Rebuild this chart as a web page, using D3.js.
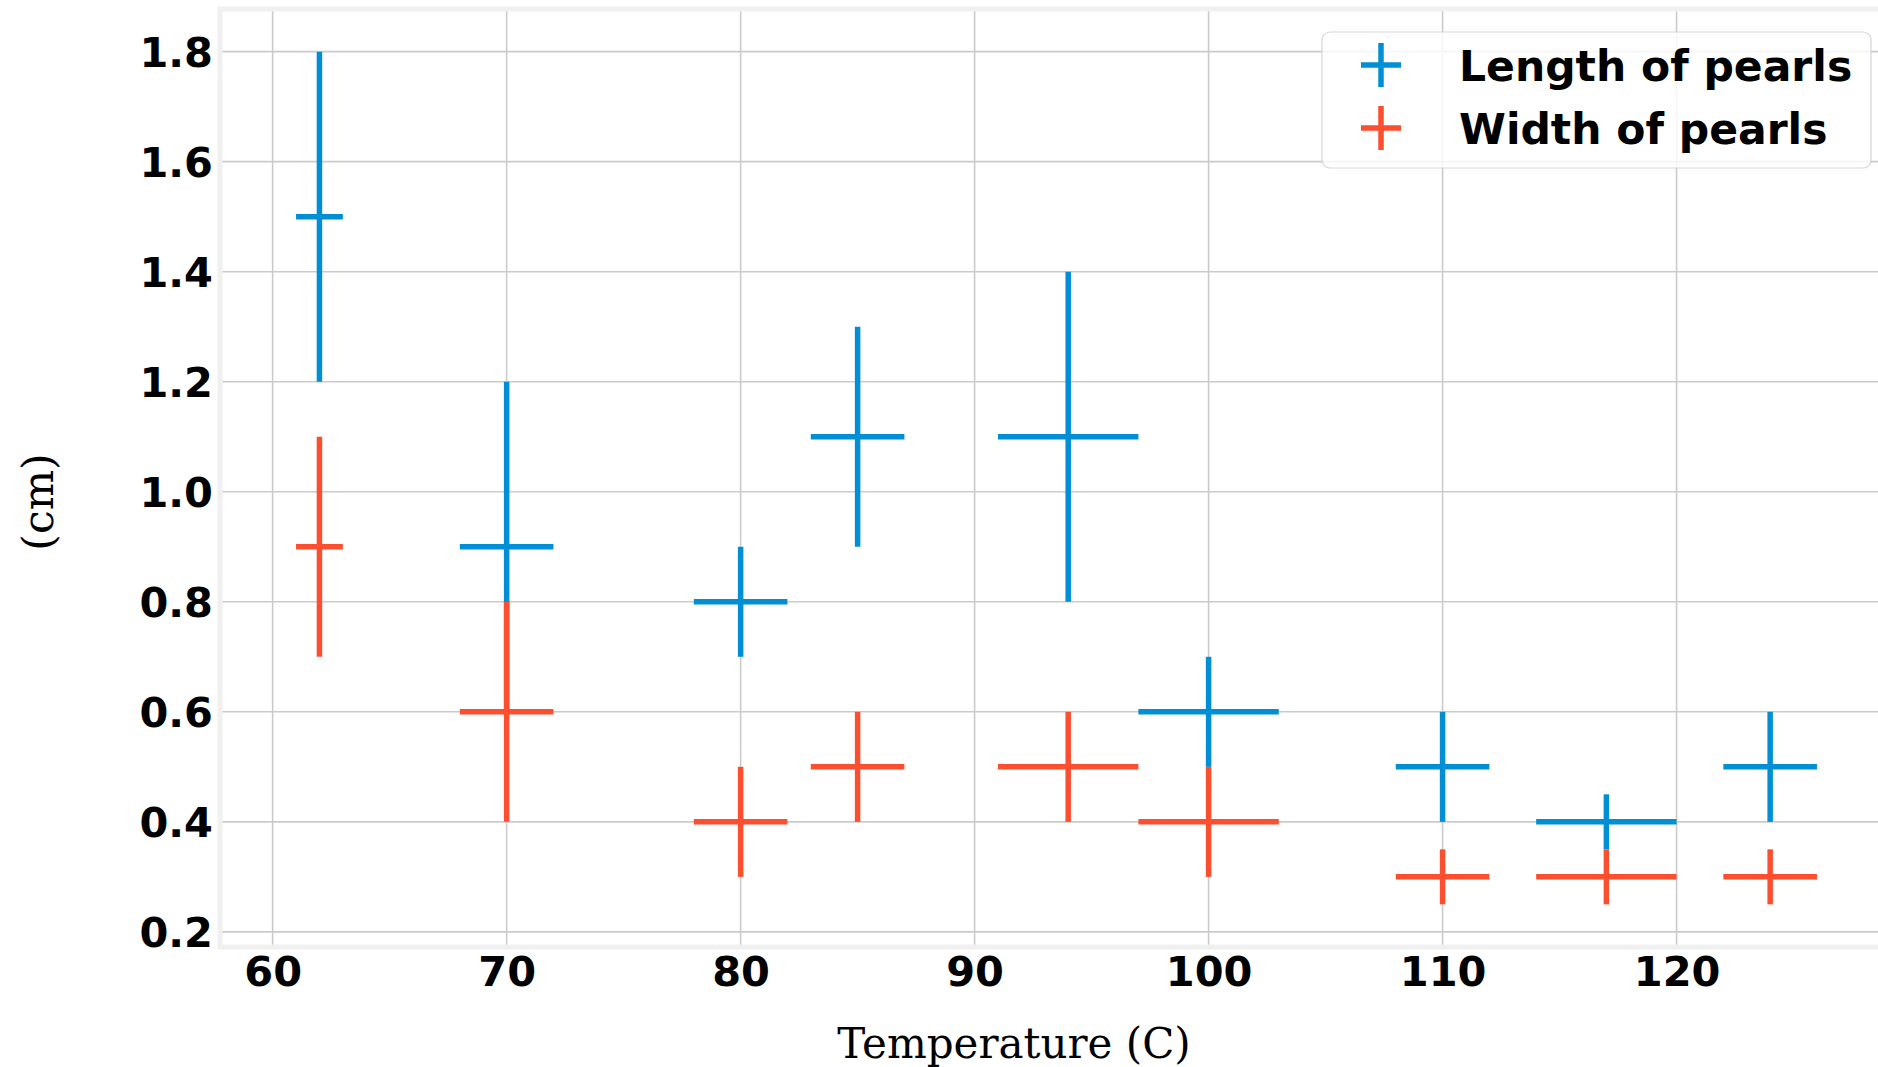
<!DOCTYPE html>
<html>
<head>
<meta charset="utf-8">
<script src="https://cdn.jsdelivr.net/npm/d3@7"></script>
<style>
  html, body { margin: 0; padding: 0; background: #ffffff; }
  svg { display: block; }
</style>
</head>
<body>
<svg id="chart" width="1878" height="1067"></svg>
<script>
// ---- data ----
const temperatures = [62, 70, 80, 85, 94, 100, 110, 117, 124];
const temperatureErr = [1, 2, 2, 2, 3, 3, 2, 3, 2];
const lengthValues = [1.5, 0.9, 0.8, 1.1, 1.1, 0.6, 0.5, 0.4, 0.5];
const lengthErr = [0.3, 0.3, 0.1, 0.2, 0.3, 0.1, 0.1, 0.05, 0.1];
const widthValues = [0.9, 0.6, 0.4, 0.5, 0.5, 0.4, 0.3, 0.3, 0.3];
const widthErr = [0.2, 0.2, 0.1, 0.1, 0.1, 0.1, 0.05, 0.05, 0.05];
const xTicks = [60, 70, 80, 90, 100, 110, 120];
const yTicks = [0.2, 0.4, 0.6, 0.8, 1.0, 1.2, 1.4, 1.6, 1.8];
const seriesNames = ["Length of pearls", "Width of pearls"];
const seriesColors = ["#008fd5", "#fc4f30"];
const xLabel = "Temperature (C)";
const yLabel = "(cm)";

(function () {
const svg = d3.select("#chart");
const pLeft = 220, pRight = 1893, pTop = 9, pBottom = 947;

const x = d3.scaleLinear().domain([57.75, 129.25]).range([pLeft, pRight]);
const y = d3.scaleLinear().domain([0.1725, 1.8775]).range([pBottom, pTop]);

// grid
const grid = svg.append("g");
grid.selectAll("line.gx").data(xTicks).join("line").attr("class", "gx")
  .attr("x1", d => x(d)).attr("x2", d => x(d))
  .attr("y1", pTop).attr("y2", pBottom)
  .attr("stroke", "#cbcbcb").attr("stroke-width", 1.6);
grid.selectAll("line.gy").data(yTicks).join("line").attr("class", "gy")
  .attr("x1", pLeft).attr("x2", pRight)
  .attr("y1", d => y(d)).attr("y2", d => y(d))
  .attr("stroke", "#cbcbcb").attr("stroke-width", 1.6);

// frame
svg.append("rect")
  .attr("x", pLeft).attr("y", pTop)
  .attr("width", pRight - pLeft).attr("height", pBottom - pTop)
  .attr("fill", "none").attr("stroke", "#f0f0f0").attr("stroke-width", 5);

// axes (tick labels via d3 axes)
const xAxis = d3.axisBottom(x).tickValues(xTicks).tickSize(0).tickPadding(0).tickFormat(d3.format("d"));
const yAxis = d3.axisLeft(y).tickValues(yTicks).tickSize(0).tickPadding(0).tickFormat(d3.format(".1f"));

const gx = svg.append("g").attr("transform", `translate(0,${pBottom})`).call(xAxis);
gx.select(".domain").remove();
gx.selectAll("text")
  .attr("dy", null).attr("y", 38.5)
  .style("font-family", "'DejaVu Sans'").style("font-weight", "bold")
  .style("font-size", "41.5px").attr("fill", "#000");

const gy = svg.append("g").attr("transform", `translate(${pLeft},0)`).call(yAxis);
gy.select(".domain").remove();
gy.selectAll("text")
  .attr("x", -7).attr("dy", "0.36em")
  .style("font-family", "'DejaVu Sans'").style("font-weight", "bold")
  .style("font-size", "41.5px").attr("fill", "#000");

// error bar crosses
const plot = svg.append("g");
function drawSeries(vals, errs, color) {
  const d = temperatures.map((t, i) => ({ t, xe: temperatureErr[i], v: vals[i], ye: errs[i] }));
  const g = plot.append("g");
  g.selectAll("line.h").data(d).join("line").attr("class", "h")
    .attr("x1", p => x(p.t - p.xe)).attr("x2", p => x(p.t + p.xe))
    .attr("y1", p => y(p.v)).attr("y2", p => y(p.v))
    .attr("stroke", color).attr("stroke-width", 5.5);
  g.selectAll("line.v").data(d).join("line").attr("class", "v")
    .attr("x1", p => x(p.t)).attr("x2", p => x(p.t))
    .attr("y1", p => y(p.v - p.ye)).attr("y2", p => y(p.v + p.ye))
    .attr("stroke", color).attr("stroke-width", 5.5);
}
drawSeries(lengthValues, lengthErr, seriesColors[0]);
drawSeries(widthValues, widthErr, seriesColors[1]);

// axis labels
svg.append("text")
  .attr("x", 1014).attr("y", 1058)
  .attr("text-anchor", "middle")
  .style("font-family", "'DejaVu Serif'").style("font-size", "42px")
  .attr("fill", "#000").text(xLabel);
svg.append("text")
  .attr("transform", "translate(53,502) rotate(-90)")
  .attr("text-anchor", "middle")
  .style("font-family", "'DejaVu Serif'").style("font-size", "42.5px")
  .attr("fill", "#000").text(yLabel);

// legend
const lg = svg.append("g");
lg.append("rect")
  .attr("x", 1322).attr("y", 32).attr("width", 549).attr("height", 136)
  .attr("rx", 8).attr("ry", 8)
  .attr("fill", "#ffffff").attr("fill-opacity", 0.8)
  .attr("stroke", "#cccccc").attr("stroke-opacity", 0.8).attr("stroke-width", 1.2);
const items = lg.selectAll("g.item").data(seriesNames).join("g").attr("class", "item")
  .attr("transform", (d, i) => `translate(0,${65 + i * 63})`);
items.append("line")
  .attr("x1", 1361).attr("x2", 1401).attr("y1", 0).attr("y2", 0)
  .attr("stroke", (d, i) => seriesColors[i]).attr("stroke-width", 5.5);
items.append("line")
  .attr("x1", 1381).attr("x2", 1381).attr("y1", -22).attr("y2", 22)
  .attr("stroke", (d, i) => seriesColors[i]).attr("stroke-width", 5.5);
items.append("text")
  .attr("x", 1459).attr("y", 15.5)
  .style("font-family", "'DejaVu Sans'").style("font-weight", "bold")
  .style("font-size", "42.5px").attr("fill", "#000")
  .text(d => d);
})();
</script>
</body>
</html>
